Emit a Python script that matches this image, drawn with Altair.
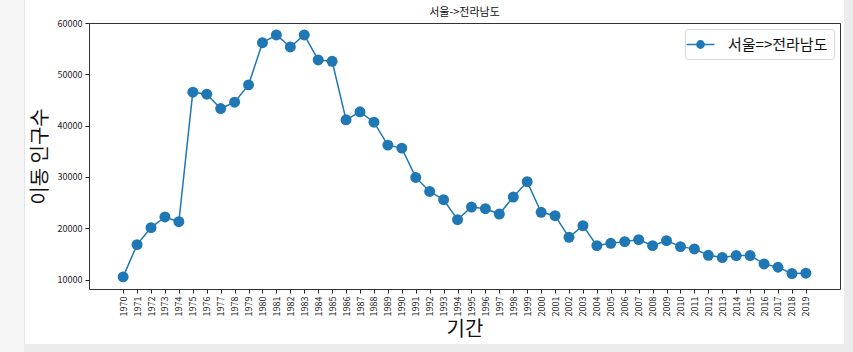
import altair as alt
import pandas as pd

years = list(range(1970, 2020))
values = [10520, 16810, 20117, 22197, 21284, 46517, 46128, 43327, 44570, 47938,
          56170, 57665, 55331, 57665, 52802, 52542, 41128, 42685, 40675, 36200,
          35617, 29903, 27180, 25564, 21673, 24137, 23813, 22776, 26085, 29066,
          23099, 22451, 18230, 20506, 16615, 17068, 17393, 17782, 16615, 17588,
          16420, 15967, 14728, 14280, 14669, 14669, 13048, 12399, 11167, 11232]
series_name = "서울=>전라남도"
title_text = "서울->전라남도"
y_ticks = [10000, 20000, 30000, 40000, 50000, 60000]

df = pd.DataFrame({"기간": years, "이동 인구수": values, "series": series_name})

FONT = "Noto Sans CJK KR"
BLUE = "#1f77b4"

x_enc = alt.X("기간:Q", scale=alt.Scale(domain=[1967.55, 2021.45], nice=False, zero=False),
              axis=alt.Axis(values=years, format="d", labelAngle=-90, labelFontSize=9,
                            labelColor="#222", tickSize=4, tickColor="#222", domain=False,
                            grid=False, labelFlush=False, labelOverlap=False,
                            title="기간", titleFontSize=20, titleFontWeight="normal",
                            titleColor="#111", titlePadding=4, labelPadding=3))
y_enc = alt.Y("이동 인구수:Q", scale=alt.Scale(domain=[8160, 60000], nice=False, zero=False),
              axis=alt.Axis(values=y_ticks, format="d", labelFontSize=9, labelColor="#222",
                            tickSize=4, tickColor="#222", grid=False, domain=False,
                            labelFlush=False,
                            title="이동 인구수", titleFontSize=20, titleFontWeight="normal",
                            titleColor="#111", titlePadding=7, labelPadding=3))

legend_symbol = "M -1.6 0 L 1.6 0 M 0.42 0 A 0.42 0.42 0 1 1 -0.42 0 A 0.42 0.42 0 1 1 0.42 0 Z"

# page decoration (notebook frame around the figure)
deco = pd.DataFrame({"k": [0]})
left_strip = alt.Chart(deco).mark_rect(color="#f5f5f5", strokeWidth=0).encode(
    x=alt.value(-89), x2=alt.value(-65), y=alt.value(-23), y2=alt.value(329))
left_edge = alt.Chart(deco).mark_rule(color="#e4e4e4", strokeWidth=1).encode(
    x=alt.value(-64.5), y=alt.value(-23), y2=alt.value(329))
right_strip = alt.Chart(deco).mark_rect(color="#ececec", strokeWidth=0).encode(
    x=alt.value(755), x2=alt.value(764), y=alt.value(-23), y2=alt.value(329))
bottom_strip = alt.Chart(deco).mark_rect(color="#ececec", strokeWidth=0).encode(
    x=alt.value(-65), x2=alt.value(764), y=alt.value(321), y2=alt.value(329))

line = alt.Chart(df).mark_line(strokeWidth=1.5).encode(
    x=x_enc, y=y_enc,
    color=alt.Color("series:N", scale=alt.Scale(range=[BLUE]),
                    legend=alt.Legend(title=None, orient="top-right", offset=6,
                                      symbolType=legend_symbol, symbolSize=300,
                                      symbolStrokeWidth=1.5, symbolFillColor=BLUE,
                                      symbolStrokeColor=BLUE,
                                      labelFontSize=15, labelColor="#111",
                                      labelFont=FONT,
                                      strokeColor="#d6d6d6", fillColor="white",
                                      cornerRadius=3, padding=6, labelOffset=18))
)
points = alt.Chart(df).mark_circle(size=120, opacity=1, color=BLUE).encode(x=x_enc, y=y_enc)

chart = alt.layer(left_strip, left_edge, right_strip, bottom_strip, line, points).properties(
    width=751, height=266,
    title=alt.TitleParams(title_text, fontSize=11, fontWeight="normal", font=FONT,
                          color="#111", anchor="middle", frame="group", offset=-18.5),
    autosize=alt.AutoSizeParams(type="none"),
    padding={"left": 89, "top": 23, "right": 13, "bottom": 63},
).configure(font=FONT).configure_view(stroke="#333", strokeWidth=1)

chart.save("out.html", embed_options={"renderer": "svg", "actions": False})
